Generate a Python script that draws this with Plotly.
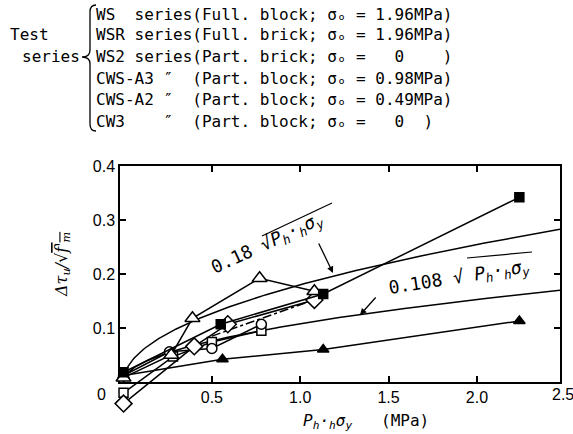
import numpy as np
import plotly.graph_objects as go

# ---------------- data ----------------
ws_x = [0.0, 0.55, 1.13, 2.24]            # WS series, filled squares
ws_y = [0.018, 0.107, 0.163, 0.342]
wsr_x = [0.0, 0.27, 0.39, 0.77, 1.08]     # open triangles
wsr_y = [0.008, 0.05, 0.118, 0.192, 0.168]
ws2_x = [0.0, 0.26, 0.50, 0.78]           # open circles
ws2_y = [0.012, 0.056, 0.062, 0.107]
a3_x = [0.0, 0.40, 0.59, 1.08]            # open diamonds
a3_y = [-0.04, 0.066, 0.107, 0.152]
a2_x = [0.0, 0.28, 0.50, 0.78]            # open squares
a2_y = [-0.02, 0.047, 0.074, 0.095]
a2_dd_x = [0.50, 1.06]                    # dash-dot segment
a2_dd_y = [0.085, 0.150]
cw3_x = [0.0, 0.56, 1.13, 2.24]           # filled triangles
cw3_y = [0.012, 0.042, 0.06, 0.113]
coef_upper = 0.18
coef_lower = 0.108
x_ticks = [0.5, 1.0, 1.5, 2.0]
x_tick_text = ["0.5", "1.0", "1.5", "2.0"]
y_ticks = [0.1, 0.2, 0.3, 0.4]
y_tick_text = ["0.1", "0.2", "0.3", "0.4"]

header_lines = [
    "WS  series(Full. block; σₒ = 1.96MPa)",
    "WSR series(Full. brick; σₒ = 1.96MPa)",
    "WS2 series(Part. brick; σₒ =   0    )",
    "CWS-A3 ″  (Part. block; σₒ = 0.98MPa)",
    "CWS-A2 ″  (Part. block; σₒ = 0.49MPa)",
    "CW3    ″  (Part. block; σₒ =   0  )",
]

W, H = 573, 434
L, R, T, B = 120, 560, 166, 409


def px(x):
    return (x - L) / (R - L)


def py(y):
    return (B - y) / (B - T)


fig = go.Figure()

# fitted curves
xc = np.linspace(0, 2.47, 200)
for c in (coef_upper, coef_lower):
    fig.add_trace(go.Scatter(x=xc, y=c * np.sqrt(xc), mode="lines",
                             line=dict(color="black", width=1.5),
                             xaxis="x", yaxis="y2", hoverinfo="skip"))

mk_line = dict(color="black", width=1.5)


def series(xs, ys, symbol, fill, size, dash="solid"):
    fig.add_trace(go.Scatter(
        x=xs, y=ys, mode="lines+markers",
        line=dict(color="black", width=1.5, dash=dash),
        marker=dict(symbol=symbol, size=size, color=fill, line=mk_line),
        cliponaxis=False, xaxis="x", yaxis="y2"))


series(cw3_x, cw3_y, "triangle-up", "black", 10)
series(a2_x, a2_y, "square", "white", 9)
fig.add_trace(go.Scatter(x=a2_dd_x, y=a2_dd_y, mode="lines",
                         line=dict(color="black", width=1.5, dash="dashdot"),
                         xaxis="x", yaxis="y2"))
series(ws2_x, ws2_y, "circle", "white", 10)
series(a3_x, a3_y, "diamond", "white", 13)
series(wsr_x, wsr_y, "triangle-up", "white", 13)
series(ws_x, ws_y, "square", "black", 9)

# dummy trace on main axes
fig.add_trace(go.Scatter(x=[None], y=[None], xaxis="x", yaxis="y", showlegend=False))

tickfont = dict(family="Liberation Sans, Arial", size=16, color="black")
fig.update_layout(
    width=W, height=H, showlegend=False,
    paper_bgcolor="white", plot_bgcolor="rgba(0,0,0,0)",
    margin=dict(l=L, r=W - R, t=T, b=H - B, pad=0),
    xaxis=dict(range=[-0.02, 2.47], anchor="y", tickvals=x_ticks, ticktext=x_tick_text,
               ticks="inside", ticklen=6, tickwidth=1.5, tickcolor="black",
               showline=True, linecolor="black", linewidth=1.5, mirror="ticks",
               showgrid=False, zeroline=False, tickfont=tickfont),
    yaxis=dict(range=[0, 0.4], domain=[0.05 * 540 / 243, 1], anchor="x",
               tickvals=y_ticks, ticktext=y_tick_text,
               ticks="inside", ticklen=6, tickwidth=1.5, tickcolor="black",
               showline=True, linecolor="black", linewidth=1.5, mirror="ticks",
               showgrid=False, zeroline=False, tickfont=tickfont),
    yaxis2=dict(range=[-0.05, 0.4], domain=[0, 1], anchor="x", visible=False),
)

anns = []


def ann(x, y, text, font, xanchor="center", **kw):
    anns.append(dict(x=px(x), y=py(y), xref="paper", yref="paper", text=text,
                     showarrow=False, xanchor=xanchor, yanchor="middle", font=font, **kw))


mono = dict(family="DejaVu Sans Mono", size=16, color="black")
ys_head = [14, 35, 57, 78, 100, 121]
for t, yy in zip(header_lines, ys_head):
    ann(94, yy, t.replace(" ", "\u00a0"), mono, xanchor="left")
ann(8, 35, "Test", mono, xanchor="left")
ann(20, 57, "series", mono, xanchor="left")

# corner labels
ann(101, 394, "0", tickfont)
ann(563, 394, "2.5", tickfont)

# axis titles
ann(62, 265, "<i>Δτ<sub>u</sub>/√<span style='text-decoration:overline'>f'<sub>m</sub></span></i>",
    dict(family="DejaVu Serif", size=16, color="black"), textangle=-90)
ann(366, 421, "<i>P<sub>h</sub>·<sub>h</sub>σ<sub>y</sub></i>\u00a0\u00a0\u00a0(MPa)",
    dict(family="DejaVu Sans Mono", size=16, color="black"))

# curve labels
lab = "<i>P<sub>h</sub>·<sub>h</sub>σ<sub>y</sub></i>"
lfont = dict(family="DejaVu Sans Mono", size=18, color="black")
ann(267, 244, "0.18\u00a0√" + lab, lfont, textangle=-25)
ann(459, 278, "0.108\u00a0√\u00a0" + lab, lfont, textangle=-9)

# arrows
for hx, hy, axp, ayp in [(333, 273, -15, -31), (360, 315, 17, -19)]:
    anns.append(dict(x=px(hx), y=py(hy), xref="paper", yref="paper", ax=axp, ay=ayp,
                     showarrow=True, arrowhead=2, arrowsize=1, arrowwidth=1.3,
                     arrowcolor="black", text=""))
fig.update_layout(annotations=anns)

# radical overlines
for (x0, y0, x1, y1) in [(262, 236, 332, 203), (467, 258, 532, 252)]:
    fig.add_shape(type="line", x0=px(x0), y0=py(y0), x1=px(x1), y1=py(y1),
                  xref="paper", yref="paper", line=dict(color="black", width=1.2))

# brace
pts = [(96, 5), (90, 5), (90, 12), (90, 50), (90, 57), (82, 57), (90, 57), (90, 64),
       (90, 124), (90, 131), (96, 131)]
p = [(px(a), py(b)) for a, b in pts]
path = (f"M {p[0][0]},{p[0][1]} Q {p[1][0]},{p[1][1]} {p[2][0]},{p[2][1]} "
        f"L {p[3][0]},{p[3][1]} Q {p[4][0]},{p[4][1]} {p[5][0]},{p[5][1]} "
        f"Q {p[6][0]},{p[6][1]} {p[7][0]},{p[7][1]} L {p[8][0]},{p[8][1]} "
        f"Q {p[9][0]},{p[9][1]} {p[10][0]},{p[10][1]}")
fig.add_shape(type="path", path=path, xref="paper", yref="paper",
              line=dict(color="black", width=1.3))

fig.write_html("out.html")
